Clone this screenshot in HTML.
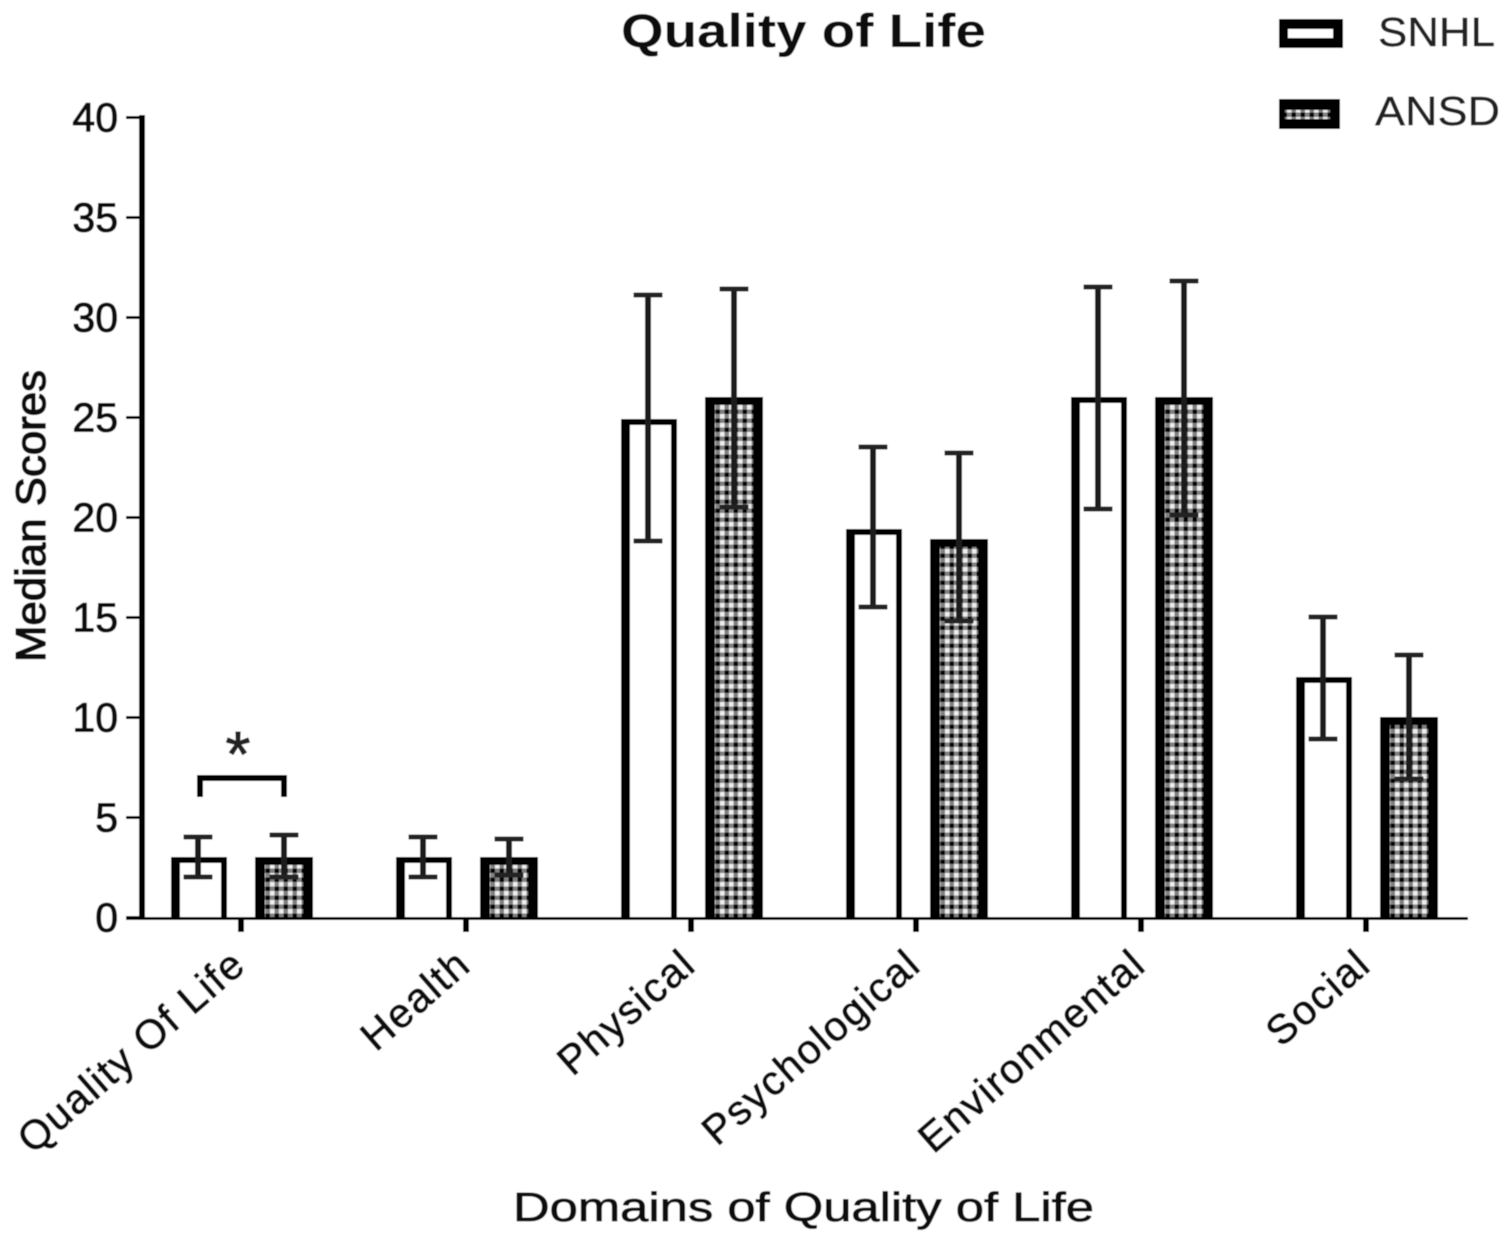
<!DOCTYPE html>
<html lang="en">
<head>
<meta charset="utf-8">
<title>Quality of Life</title>
<style>
html,body{margin:0;padding:0;background:#fff;width:1508px;height:1237px;overflow:hidden}
svg{display:block;font-family:"Liberation Sans",Arial,sans-serif}
</style>
</head>
<body>
<svg id="chart" xmlns="http://www.w3.org/2000/svg" width="1508" height="1237" viewBox="0 0 1508 1237">
  <defs>
    <pattern id="check" patternUnits="userSpaceOnUse" width="9" height="9">
      <rect width="9" height="9" fill="#808080"/>
      <rect x="0" y="0" width="4.5" height="4.5" fill="#eeeeee"/>
      <rect x="4.5" y="4.5" width="4.5" height="4.5" fill="#050505"/>
    </pattern>
    <filter id="soft" x="-2%" y="-2%" width="104%" height="104%"><feGaussianBlur stdDeviation="0.6"/></filter>
  </defs>
  <g id="root" filter="url(#soft)">
    <rect width="1508" height="1237" fill="#fff"/>
    <text x="621" y="47" font-size="47" font-weight="700" textLength="365" lengthAdjust="spacingAndGlyphs" fill="#111">Quality of Life</text>
    <text x="513" y="1221" font-size="41" stroke="#111" stroke-width="0.8" textLength="581" lengthAdjust="spacingAndGlyphs" fill="#111">Domains of Quality of Life</text>
    <text transform="translate(45,662) rotate(-90)" font-size="42" stroke="#111" stroke-width="1.4" textLength="292" lengthAdjust="spacingAndGlyphs" fill="#111">Median Scores</text>
    <g>
      <rect x="1279" y="19" width="64" height="29" fill="#000"/>
      <rect x="1288" y="29" width="45" height="9" fill="#fff"/>
      <text x="1378" y="46" font-size="41" stroke="#222" stroke-width="0.4" textLength="117" lengthAdjust="spacingAndGlyphs" fill="#222">SNHL</text>
      <rect x="1279" y="99" width="61" height="30" fill="#000"/>
      <rect x="1285" y="110" width="45" height="9" fill="url(#check)"/>
      <text x="1375" y="125" font-size="41" stroke="#222" stroke-width="0.4" textLength="125" lengthAdjust="spacingAndGlyphs" fill="#222">ANSD</text>
    </g>
    <g id="marks"></g>
  </g>
</svg>
<script>
const categories = ["Quality Of Life", "Health", "Physical", "Psychological", "Environmental", "Social"];
const snhlMedian = [3, 3, 24.9, 19.4, 26, 12];
const snhlHigh = [4, 4, 31.1, 23.5, 31.5, 15];
const snhlLow = [2, 2, 18.8, 15.5, 20.4, 8.9];
const ansdMedian = [3, 3, 26, 18.9, 26, 10];
const ansdHigh = [4.1, 3.9, 31.4, 23.2, 31.8, 13.1];
const ansdLow = [2, 2.1, 20.5, 14.8, 20.1, 6.9];
const yTicks = [0, 5, 10, 15, 20, 25, 30, 35, 40];
const significantGroups = [0];

const NS = "http://www.w3.org/2000/svg";
const marks = document.getElementById("marks");
function y(v) { return 917 - v * 20; }
function xCenter(i) { return 241 + i * 225; }
function make(tag, attrs, text) {
  const el = document.createElementNS(NS, tag);
  for (const k in attrs) el.setAttribute(k, attrs[k]);
  if (text !== undefined) el.textContent = text;
  marks.appendChild(el);
  
  return el;
}

// axes
const yAxis = make("rect", { x: 139, y: y(40) - 2, width: 6, height: y(0) - y(40) + 4, fill: "#000" });

const xAxis = make("rect", { x: 126, y: y(0), width: 1342, height: 3, fill: "#000" });


yTicks.forEach(function (t) {
  const tick = make("rect", { x: 126, y: y(t) - 1, width: 14, height: 3, fill: "#000" });
  
  const label = make("text", { x: 118, y: y(t) + 14.5, "font-size": 41, "text-anchor": "end", stroke: "#111", "stroke-width": 1, fill: "#111" }, String(t));
  
});

categories.forEach(function (name, i) {
  const cx = xCenter(i);
  const tick = make("rect", { x: cx - 3, y: y(0) + 1, width: 6, height: 14, fill: "#000" });
  
  const label = make("text", {
    transform: "translate(" + (cx + 7) + ",968) rotate(-41)",
    "font-size": 41, "letter-spacing": 1.7, stroke: "#111", "stroke-width": 0.9, "text-anchor": "end", fill: "#111"
  }, name);
  
});

function drawErrorBar(cx, high, low) {
  const stem = make("rect", { x: cx - 3, y: y(high), width: 6, height: y(low) - y(high), fill: "#1c1c1c" });
  
  const capTop = make("rect", { x: cx - 14.5, y: y(high) - 2.5, width: 29, height: 5, fill: "#222" });
  
  const capBottom = make("rect", { x: cx - 14.5, y: y(low) - 2.5, width: 29, height: 5, fill: "#222" });
  
}

categories.forEach(function (name, i) {
  const sx = xCenter(i) - 70;
  const sBar = make("rect", { x: sx, y: y(snhlMedian[i]), width: 56, height: y(0) - y(snhlMedian[i]) + 1, fill: "#000" });
  
  const sFill = make("rect", { x: sx + 9, y: y(snhlMedian[i]) + 6, width: 41, height: y(0) - y(snhlMedian[i]) - 6, fill: "#fff" });
  
  drawErrorBar(xCenter(i) - 43, snhlHigh[i], snhlLow[i]);

  const ax = xCenter(i) + 14;
  const aBar = make("rect", { x: ax, y: y(ansdMedian[i]), width: 58, height: y(0) - y(ansdMedian[i]) + 1, fill: "#000" });
  
  const aFill = make("rect", { x: ax + 10, y: y(ansdMedian[i]) + 8, width: 38, height: y(0) - y(ansdMedian[i]) - 8, fill: "url(#check)" });
  
  drawErrorBar(xCenter(i) + 43, ansdHigh[i], ansdLow[i]);
});

significantGroups.forEach(function (i) {
  const l = xCenter(i) - 44, r = xCenter(i) + 46;
  const top = y(Math.max(snhlHigh[i], ansdHigh[i])) - 60;
  const bracket = make("path", {
    d: "M" + (l + 3) + " " + (top + 22) + "V" + (top + 3) + "H" + (r - 3) + "V" + (top + 22),
    fill: "none", stroke: "#000", "stroke-width": 6
  });
  
  const star = make("text", { x: xCenter(i) - 3, y: top + 1, "font-size": 64, "text-anchor": "middle", stroke: "#222", "stroke-width": 1, fill: "#222" }, "*");
  
});
</script>
</body>
</html>
